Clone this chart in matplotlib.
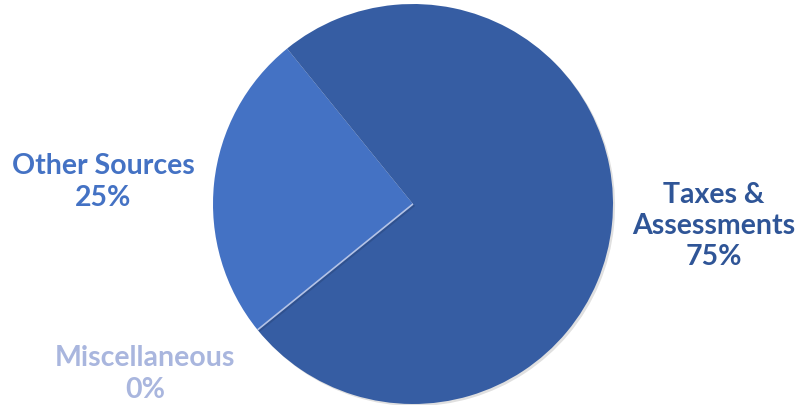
import matplotlib
matplotlib.use("Agg")
import matplotlib.pyplot as plt
import matplotlib.patheffects as pe

categories = ["Taxes &\nAssessments", "Other Sources", "Miscellaneous"]
shares = [75, 25, 0]
slice_colors = ["#365DA3", "#4472C4", "#B4C3E6"]
label_colors = ["#2F5597", "#4472C4", "#A9B6DE"]

fig = plt.figure(figsize=(8.0, 4.06), dpi=100)
ax = fig.add_axes([213 / 800, 1 / 406, 400 / 800, 400 / 406])

wedges, _ = ax.pie(
    shares,
    colors=slice_colors,
    startangle=219,
    counterclock=True,
    radius=1.0,
    wedgeprops=dict(linewidth=0),
)
# light separator line from the zero-width slice
wedges[2].set_edgecolor("#B4C3E6")
wedges[2].set_linewidth(1.2)
for w in wedges[:2]:
    w.set_path_effects([pe.SimplePatchShadow(offset=(1.5, -1.5), shadow_rgbFace="#000000", alpha=0.12), pe.Normal()])

ax.set_xlim(-1, 1)
ax.set_ylim(-1, 1)
ax.set_aspect("equal")
ax.axis("off")

label_pos = [(1.505, -0.105), (-1.55, 0.115), (-1.34, -0.845)]
for name, val, col, (x, y) in zip(categories, shares, label_colors, label_pos):
    ax.text(x, y, f"{name}\n{val}%", ha="center", va="center", color=col,
            fontsize=20.5, fontweight="bold", family="Lato", linespacing=1.25,
            clip_on=False)

fig.savefig("out.png", dpi=100)
